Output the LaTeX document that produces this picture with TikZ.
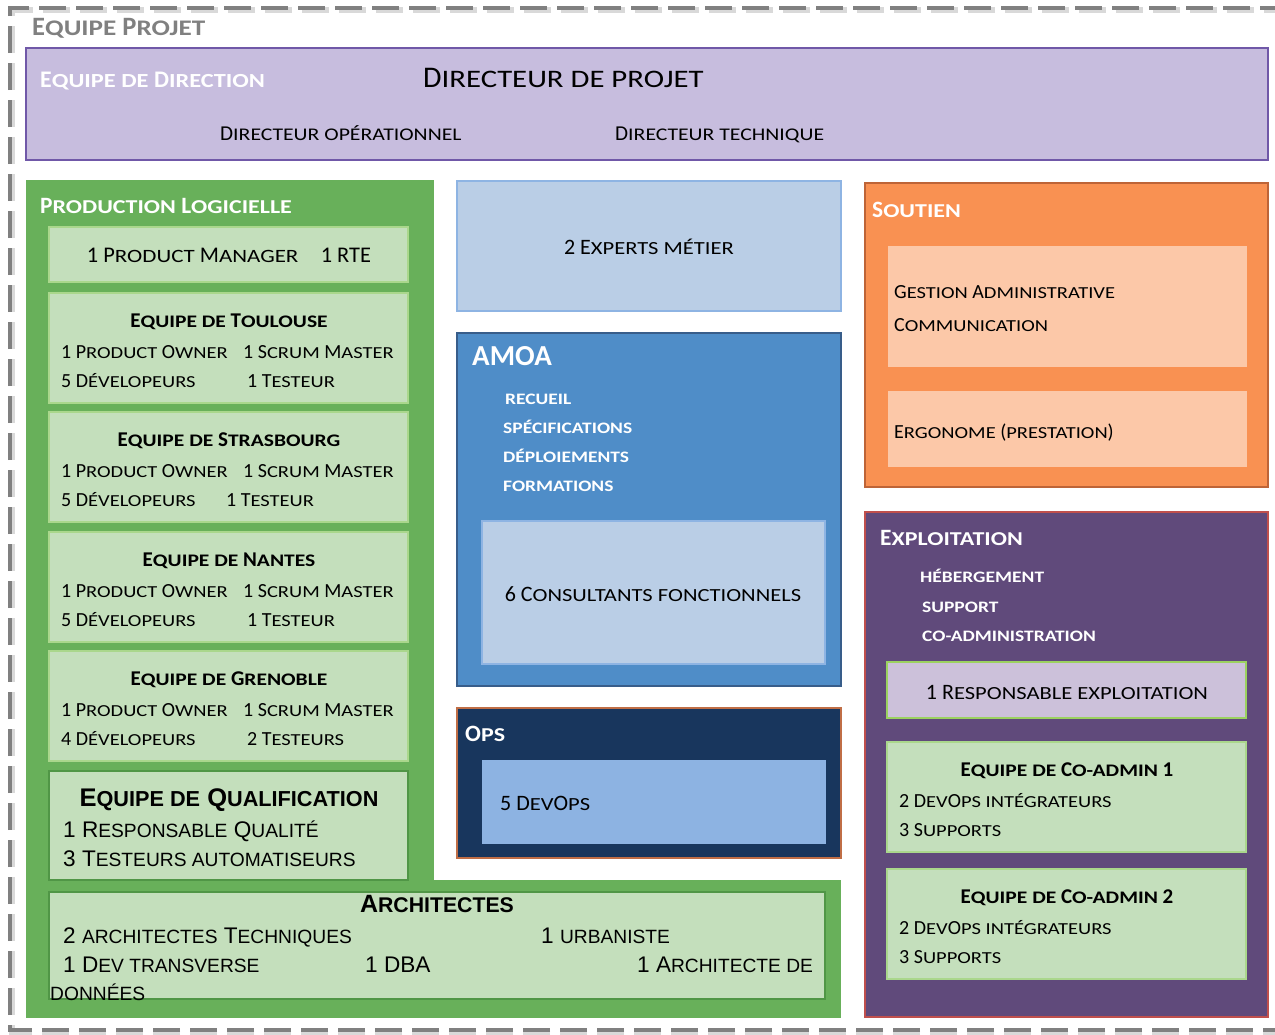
\documentclass[tikz,border=0pt]{standalone}
\usepackage{fontspec}
\setmainfont{Carlito}
\newfontfamily\carlsc[Scale=0.84,FakeStretch=1.22]{Carlito}
\newfontfamily\arial{Liberation Sans}
\newfontfamily\arialsc[Scale=0.85]{Liberation Sans}
\newcommand\sm[1]{{\carlsc #1}}
\newcommand\lc[1]{{\arialsc #1}}
\definecolor{grisprojet}{RGB}{128,128,128}
\definecolor{lavdir}{RGB}{199,189,222}
\definecolor{violetdir}{RGB}{112,88,168}
\definecolor{vertfonce}{RGB}{104,176,90}
\definecolor{vertclair}{RGB}{196,223,188}
\definecolor{vertbord}{RGB}{170,215,140}
\definecolor{vertqualif}{RGB}{80,150,70}
\definecolor{bleuclair}{RGB}{186,206,230}
\definecolor{bleubord}{RGB}{142,180,227}
\definecolor{bleuamoa}{RGB}{79,141,200}
\definecolor{bleuamoabord}{RGB}{56,93,138}
\definecolor{marineops}{RGB}{24,54,93}
\definecolor{brunops}{RGB}{192,110,70}
\definecolor{bleuops}{RGB}{141,179,226}
\definecolor{orangesout}{RGB}{249,145,82}
\definecolor{orangebord}{RGB}{190,100,55}
\definecolor{peche}{RGB}{252,200,168}
\definecolor{violetexpl}{RGB}{96,74,123}
\definecolor{rougeexpl}{RGB}{192,80,77}
\definecolor{lavexpl}{RGB}{204,193,218}
\definecolor{vertexpl}{RGB}{155,210,95}

\begin{document}
\begin{tikzpicture}[x=1pt,y=-1pt,
  box/.style n args={4}{fill=#1,draw=#2,minimum width=#3,minimum height=#4,anchor=north west,inner sep=0pt,outer sep=0pt,rectangle},
  txt/.style={inner sep=0pt,text height=1.35ex,text depth=0pt,yshift=-4pt},
  ligne/.style={txt,anchor=west,font=\fontsize{20}{24}\selectfont},
  titre/.style={txt,font=\fontsize{21}{25}\selectfont\bfseries},
  entete/.style={txt,anchor=west,text=white,font=\fontsize{23.4}{27}\selectfont\bfseries},
  puce/.style={txt,anchor=west,text=white,font=\fontsize{19}{22}\selectfont\bfseries},
  aligne/.style={txt,anchor=west,font=\fontsize{22.6}{26}\selectfont\arial},
  cadre/.style={grisprojet,line width=4pt,dash pattern=on 27pt off 10pt}]
\useasboundingbox (0,0) rectangle (1275,1034);

% cadre de l'equipe projet
\draw[cadre,draw=black!15,line width=6pt] (1290,1032) -- (12,1032) -- (12,10) -- (1290,10);
\draw[cadre] (1290,1030) -- (10,1030) -- (10,8) -- (1290,8);
\node[txt,anchor=west,text=grisprojet,font=\fontsize{26.5}{30}\selectfont\bfseries] (projet) at (32,28) {E\sm{QUIPE} P\sm{ROJET}};

% direction
\node[box={lavdir}{violetdir}{1242pt}{112pt},line width=2pt] (direction) at (26,48) {};
\node[txt,anchor=west,text=white,font=\fontsize{23.8}{28}\selectfont\bfseries] (direction-titre) at (40,80) {E\sm{QUIPE DE} D\sm{IRECTION}};
\node[txt,anchor=west,font=\fontsize{30}{35}\selectfont] (dirprojet) at (423,80) {D\sm{IRECTEUR DE PROJET}};
\node[txt,anchor=west,font=\fontsize{21.2}{25}\selectfont] (dirop) at (220,133) {D\sm{IRECTEUR OPÉRATIONNEL}};
\node[txt,anchor=west,font=\fontsize{21.2}{25}\selectfont] (dirtech) at (615,133) {D\sm{IRECTEUR TECHNIQUE}};

% production logicielle
\node[box={vertfonce}{vertfonce}{407pt}{837pt}] (production) at (26,180) {};
\node[box={vertfonce}{vertfonce}{814pt}{137pt}] (archifond) at (26,880) {};
\node[entete] (production-titre) at (40,206) {P\sm{RODUCTION} L\sm{OGICIELLE}};
\node[box={vertclair}{vertbord}{359pt}{55pt},line width=1.5pt] (pm) at (49,227) {};
\node[txt,font=\fontsize{22.4}{26}\selectfont] (pm-txt) at (229,255) {1 P\sm{RODUCT} M\sm{ANAGER}\quad 1 RTE};
\foreach \city/\top/\dev/\tx/\test in {T\sm{OULOUSE}/293/5/247/1 T\sm{ESTEUR},S\sm{TRASBOURG}/412/5/226/1 T\sm{ESTEUR},N\sm{ANTES}/532/5/247/1 T\sm{ESTEUR},G\sm{RENOBLE}/651/4/247/2 T\sm{ESTEURS}}{
  \node[box={vertclair}{vertbord}{359pt}{110pt},line width=1.5pt] (team\top) at (49,\top) {};
  \node[titre] (team\top-titre) at (229,\top+27) {E\sm{QUIPE DE} \city};
  \node[ligne] (team\top-po) at (61,\top+58) {1 P\sm{RODUCT} O\sm{WNER}};
  \node[ligne] (team\top-sm) at (243,\top+58) {1 S\sm{CRUM} M\sm{ASTER}};
  \node[ligne] (team\top-dev) at (61,\top+87) {\dev\ D\sm{ÉVELOPEURS}};
  \node[ligne] (team\top-test) at (\tx,\top+87) {\test};
}
\node[box={vertclair}{vertqualif}{359pt}{109pt},line width=2pt] (qualif) at (49,771) {};
\node[txt,font=\fontsize{25.5}{29}\selectfont\arial\bfseries] (qualif-titre) at (229,799) {E\lc{QUIPE DE} Q\lc{UALIFICATION}};
\node[aligne] (qualif-resp) at (63,830) {1 R\lc{ESPONSABLE} Q\lc{UALITÉ}};
\node[aligne] (qualif-test) at (63,859) {3 T\lc{ESTEURS AUTOMATISEURS}};

% architectes
\node[box={vertclair}{vertqualif}{776pt}{107pt},line width=2pt] (archi) at (49,892) {};
\node[txt,font=\fontsize{25}{29}\selectfont\arial\bfseries] (archi-titre) at (437,905) {A\lc{RCHITECTES}};
\node[aligne] (archi-tech) at (63,936) {2 \lc{ARCHITECTES} T\lc{ECHNIQUES}};
\node[aligne] (archi-urba) at (541,936) {1 \lc{URBANISTE}};
\node[aligne] (archi-dev) at (63,965) {1 D\lc{EV TRANSVERSE}};
\node[aligne] (archi-dba) at (365,965) {1 DBA};
\node[aligne] (archi-donnees) at (637,965) {1 A\lc{RCHITECTE DE}};
\node[aligne] (archi-suite) at (50,993) {\lc{DONNÉES}};

% experts metier
\node[box={bleuclair}{bleubord}{384pt}{130pt},line width=2pt] (experts) at (457,181) {};
\node[txt,font=\fontsize{22}{26}\selectfont] (experts-txt) at (649,247) {2 E\sm{XPERTS MÉTIER}};

% amoa
\node[box={bleuamoa}{bleuamoabord}{384pt}{353pt},line width=2pt] (amoa) at (457,333) {};
\node[txt,anchor=west,text=white,font=\fontsize{29}{34}\selectfont\bfseries] (amoa-titre) at (472,358) {AMOA};
\foreach \item/\x/\y in {RECUEIL/505/397,SPÉCIFICATIONS/503/426,DÉPLOIEMENTS/503/455,FORMATIONS/503/484}{
  \node[puce] (amoa-\y) at (\x,\y) {\sm{\item}};
}
\node[box={bleuclair}{bleubord}{343pt}{143pt},line width=2pt] (consultants) at (482,521) {};
\node[txt,font=\fontsize{22}{26}\selectfont] (consultants-txt) at (653,594) {6 C\sm{ONSULTANTS FONCTIONNELS}};

% ops
\node[box={marineops}{brunops}{384pt}{150pt},line width=2pt] (ops) at (457,708) {};
\node[entete] (ops-titre) at (465,734) {O\sm{PS}};
\node[box={bleuops}{bleuops}{343pt}{83pt}] (devops) at (482,760) {};
\node[txt,anchor=west,font=\fontsize{22}{26}\selectfont] (devops-txt) at (500,803) {5 D\sm{EV}O\sm{PS}};

% soutien
\node[box={orangesout}{orangebord}{403pt}{304pt},line width=2pt] (soutien) at (865,183) {};
\node[entete] (soutien-titre) at (872,210) {S\sm{OUTIEN}};
\node[box={peche}{peche}{358pt}{120pt}] (gestion) at (888,246) {};
\node[ligne] (gestion-adm) at (894,291) {G\sm{ESTION} A\sm{DMINISTRATIVE}};
\node[ligne] (gestion-com) at (894,324) {C\sm{OMMUNICATION}};
\node[box={peche}{peche}{358pt}{75pt}] (ergo) at (888,391) {};
\node[ligne] (ergo-txt) at (894,431) {E\sm{RGONOME} (\sm{PRESTATION})};

% exploitation
\node[box={violetexpl}{rougeexpl}{403pt}{505pt},line width=2pt] (exploitation) at (865,512) {};
\node[entete] (exploitation-titre) at (880,538) {E\sm{XPLOITATION}};
\foreach \item/\x/\y in {HÉBERGEMENT/920/575,SUPPORT/922/605,CO-ADMINISTRATION/922/634}{
  \node[puce] (expl-\y) at (\x,\y) {\sm{\item}};
}
\node[box={lavexpl}{vertexpl}{359pt}{56pt},line width=1.5pt] (respexpl) at (887,662) {};
\node[txt,font=\fontsize{22}{26}\selectfont] (respexpl-txt) at (1067,692) {1 R\sm{ESPONSABLE EXPLOITATION}};
\foreach \n/\top in {1/742,2/869}{
  \node[box={vertclair}{vertbord}{359pt}{110pt},line width=1.5pt] (coadmin\n) at (887,\top) {};
  \node[titre] (coadmin\n-titre) at (1067,\top+27) {E\sm{QUIPE DE} C\sm{O-ADMIN} \n};
  \node[ligne] (coadmin\n-devops) at (899,\top+58) {2 D\sm{EV}O\sm{PS INTÉGRATEURS}};
  \node[ligne] (coadmin\n-supports) at (899,\top+87) {3 S\sm{UPPORTS}};
}
\end{tikzpicture}
\end{document}
